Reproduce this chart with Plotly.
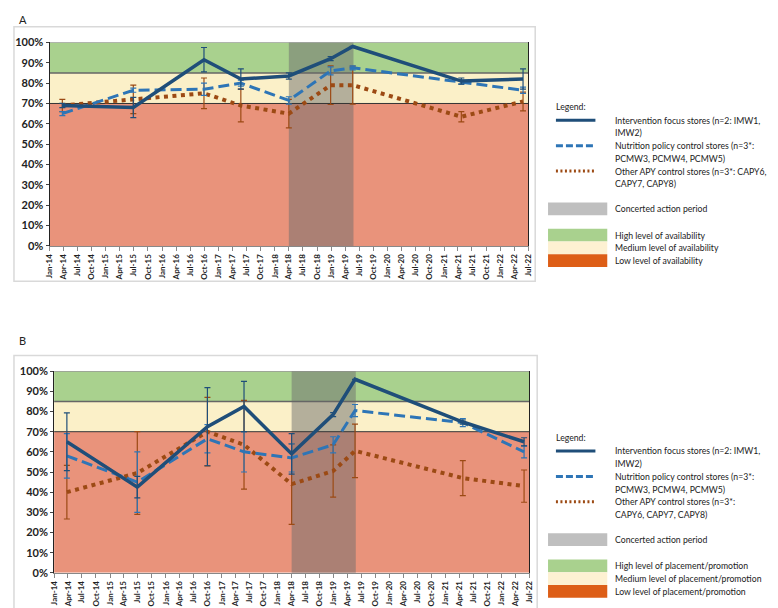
import plotly.graph_objects as go

W, H = 778, 608

# survey dates (same for both panels)
dates = ["2014-03-25", "2015-06-28", "2016-09-28", "2017-05-25", "2018-04-01",
         "2018-12-28", "2019-05-20", "2021-04-23", "2022-05-28"]

# panel A - availability (%)
a_interv = [69, 68, 91.5, 82, 83.5, 92, 98, 81, 82]
a_interv_err = [1, 5, 6, 5, 1.5, 1, 0, 1.5, 5]
a_nutr = [65, 76.5, 77, 80, 71.5, 86, 87.5, 80.5, 76.5]
a_nutr_err = [1, 1, 3, 1.5, 1.8, 2, 1, 1, 1.5]
a_other = [69, 72, 75, 69, 65, 79, 79, 63.5, 71]
a_other_err = [3, 7, 7.5, 8, 7, 9.5, 9.3, 2.5, 4.6]

# panel B - placement/promotion (%)
b_interv = [65, 42.5, 72.5, 82.5, 59, 78.5, 96, 74.8, 65]
b_interv_err = [14.3, 5.3, 19.4, 12.5, 10, 1, 0, 1, 2]
b_nutr = [58, 45, 66.5, 60, 57, 63.5, 80.5, 74.5, 60]
b_nutr_err = [11, 15, 7, 10, 7, 4, 3, 2, 3]
b_other = [40, 49.5, 70, 63.5, 44, 50.5, 60.5, 47, 43]
b_other_err = [13.3, 20.5, 17, 22, 20, 13, 13.3, 8.7, 8]

concerted = ["2018-04-01", "2019-05-25"]

C_INT = "#1F4E79"
C_NUT = "#2E75B6"
C_OTH = "#9C4A14"
GREEN = "#A9D18E"
YELLOW = "#FBF0C8"
RED = "#E9937B"
LEG_RED = "#DD5E17"
GRAY = "rgba(110,110,110,0.5)"
FONT = "Lato"
LEG_SIZE = 8.7


def px(x):
    return x / W


def py(y):
    return 1 - y / H


fig = go.Figure()

panels = [
    ("", a_interv, a_interv_err, a_nutr, a_nutr_err, a_other, a_other_err),
    ("2", b_interv, b_interv_err, b_nutr, b_nutr_err, b_other, b_other_err),
]

for suf, iv, ie, nv, ne, ov, oe in panels:
    xa, ya = "x" + suf, "y" + suf
    fig.add_trace(go.Scatter(x=dates, y=ov, mode="lines", xaxis=xa, yaxis=ya,
                             line=dict(color=C_OTH, width=4, dash="4px,4.5px"),
                             error_y=dict(type="data", array=oe, color=C_OTH, thickness=1.2, width=3),
                             showlegend=False))
    fig.add_trace(go.Scatter(x=dates, y=nv, mode="lines", xaxis=xa, yaxis=ya,
                             line=dict(color=C_NUT, width=3, dash="11px,5px"),
                             error_y=dict(type="data", array=ne, color=C_NUT, thickness=1.2, width=3),
                             showlegend=False))
    fig.add_trace(go.Scatter(x=dates, y=iv, mode="lines", xaxis=xa, yaxis=ya,
                             line=dict(color=C_INT, width=3.5),
                             error_y=dict(type="data", array=ie, color=C_INT, thickness=1.2, width=3),
                             showlegend=False))

shapes = []
for suf in ["", "2"]:
    xa, ya = "x" + suf, "y" + suf
    for y0, y1, col in [(0, 70, RED), (70, 85, YELLOW), (85, 100, GREEN)]:
        shapes.append(dict(type="rect", xref=xa + " domain", yref=ya, x0=0, x1=1, y0=y0, y1=y1,
                           fillcolor=col, line=dict(width=0), layer="below"))
    shapes.append(dict(type="rect", xref=xa, yref=ya + " domain", x0=concerted[0], x1=concerted[1],
                       y0=0, y1=1, fillcolor=GRAY, line=dict(width=0), layer="below"))
    for yv, c, w in [(70, "#333333", 1), (85, "#666666", 1.5), (100, "#777777", 1.2)]:
        shapes.append(dict(type="line", xref=xa + " domain", yref=ya, x0=0, x1=1, y0=yv, y1=yv,
                           line=dict(color=c, width=w), layer="below"))

# panel frames
shapes.append(dict(type="rect", xref="paper", yref="paper", x0=px(1), x1=px(529), y0=py(12), y1=py(272),
                   line=dict(color="#D9D9D9", width=1.5)))
shapes.append(dict(type="rect", xref="paper", yref="paper", x0=px(1), x1=px(531), y0=py(348), y1=py(607),
                   line=dict(color="#D9D9D9", width=1.5)))

annotations = [
    dict(text="A", x=px(4), y=py(5), xref="paper", yref="paper", xanchor="left", yanchor="middle",
         showarrow=False, font=dict(size=11, color="#222")),
    dict(text="B", x=px(4), y=py(333), xref="paper", yref="paper", xanchor="left", yanchor="middle",
         showarrow=False, font=dict(size=11, color="#222")),
]

legend_sets = [
    (94, ["Intervention focus stores (n=2: IMW1,", "IMW2)"],
     ["Nutrition policy control stores (n=3*:", "PCMW3, PCMW4, PCMW5)"],
     ["Other APY control stores (n=3*: CAPY6,", "CAPY7, CAPY8)"], "availability"),
    (432, ["Intervention focus stores (n=2: IMW1,", "IMW2)"],
     ["Nutrition policy control stores (n=3*:", "PCMW3, PCMW4, PCMW5)"],
     ["Other APY control stores (n=3*:", "CAPY6, CAPY7, CAPY8)"], "placement/promotion"),
]

TX = 608
for y0, t1, t2, t3, word in legend_sets:
    def txt(s, y):
        annotations.append(dict(text=s, x=px(TX), y=py(y), xref="paper", yref="paper",
                                xanchor="left", yanchor="middle", showarrow=False,
                                font=dict(size=LEG_SIZE, color="#222")))
    annotations.append(dict(text="Legend:", x=px(548), y=py(y0), xref="paper", yref="paper",
                            xanchor="left", yanchor="middle", showarrow=False,
                            font=dict(size=LEG_SIZE, color="#222")))
    rows = [(t1, C_INT, None, 3), (t2, C_NUT, "7px,3px", 3), (t3, C_OTH, "2px,2.5px", 3)]
    for i, (lines, col, dash, w) in enumerate(rows):
        yl = y0 + 13.5 + i * 26
        ln = dict(color=col, width=w)
        if dash:
            ln["dash"] = dash
        shapes.append(dict(type="line", xref="paper", yref="paper", x0=px(550), x1=px(590),
                           y0=py(yl), y1=py(yl), line=ln))
        txt(lines[0], yl)
        txt(lines[1], yl + 13)
    yg = y0 + 104
    shapes.append(dict(type="rect", xref="paper", yref="paper", x0=px(542), x1=px(602),
                       y0=py(yg - 6.5), y1=py(yg + 6.5), fillcolor="#BFBFBF", line=dict(width=0)))
    txt("Concerted action period", yg)
    for j, (col, lab) in enumerate([(GREEN, "High"), ("#FDF1D2", "Medium"), (LEG_RED, "Low")]):
        yy = yg + 27 + j * 13
        shapes.append(dict(type="rect", xref="paper", yref="paper", x0=px(542), x1=px(602),
                           y0=py(yy - 6.5), y1=py(yy + 6.5), fillcolor=col, line=dict(width=0)))
        txt(f"{lab} level of {word}", yy)

xcommon = dict(type="date", range=["2014-01-01", "2022-07-01"], tick0="2014-01-01", dtick="M3",
               tickformat="%b-%y", tickangle=-90, ticks="outside", ticklen=4, tickcolor="#888",
               showline=True, linecolor="#888", linewidth=1, showgrid=False, zeroline=False,
               tickfont=dict(size=8, color="#222", weight="bold"))
ycommon = dict(range=[0, 100], dtick=10, ticksuffix="%", ticks="outside", ticklen=3, tickcolor="#444",
               showline=True, linecolor="#222", linewidth=1, mirror=True, showgrid=False, zeroline=False,
               tickfont=dict(size=11, color="#222", weight="bold"))

fig.update_layout(
    width=W, height=H, margin=dict(l=0, r=0, t=0, b=0),
    paper_bgcolor="white", plot_bgcolor="white",
    font=dict(family=FONT, color="#222"),
    xaxis=dict(domain=[px(37), px(522)], anchor="y", **xcommon),
    yaxis=dict(domain=[py(236), py(28)], anchor="x", **ycommon),
    xaxis2=dict(domain=[px(41.7), px(523)], anchor="y2", **xcommon),
    yaxis2=dict(domain=[py(570), py(364)], anchor="x2", **ycommon),
    shapes=shapes, annotations=annotations,
)

fig.write_html("out.html")
